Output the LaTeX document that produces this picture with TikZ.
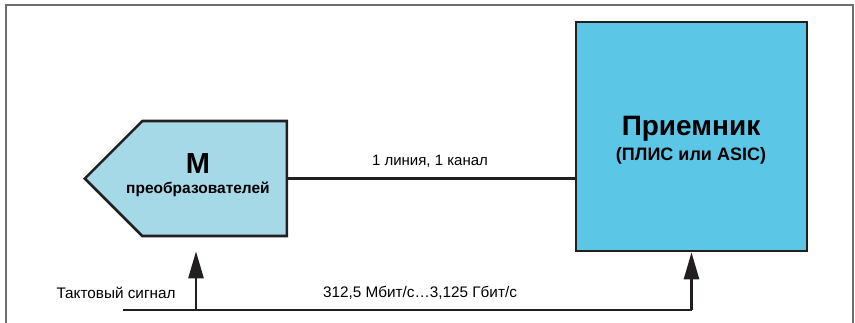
\documentclass[tikz,border=0pt]{standalone}
\usepackage{fontspec}
\setmainfont{Liberation Sans}
\usetikzlibrary{shapes.symbols,arrows.meta}
\definecolor{edge}{HTML}{231F20}
\definecolor{frame}{HTML}{6D6E70}
\definecolor{rxfill}{HTML}{5BC6E6}
\definecolor{cvfill}{HTML}{A6D9E7}
\tikzset{
  x=1pt, y=1pt,
  block/.style={draw=edge, line width=2.6pt, inner sep=0pt},
  wire/.style={draw=edge, line width=2.6pt},
  arr/.style={wire, -{Triangle[length=27pt,width=15pt]}},
  lbl/.style={inner sep=0pt, anchor=base, font=\fontsize{15}{17}\selectfont}
}
\begin{document}
\begin{tikzpicture}
\useasboundingbox (0,0) rectangle (855,-322);
% outer frame (bottom edge runs off the page)
\draw[frame, line width=1.3pt] (6,-340) -- (6,-5) -- (853,-5) -- (853,-340);

% receiver block
\node[block, fill=rxfill, minimum width=231pt, minimum height=229pt] (recv) at (691.5,-136.5) {};
\node[lbl, font=\bfseries\fontsize{28}{30}\selectfont] (recvT) at (691,-135) {Приемник};
\node[lbl, font=\bfseries\fontsize{18}{20}\selectfont] (recvS) at (691,-160) {(ПЛИС или ASIC)};

% converter block, pointed towards the west
\node[block, fill=cvfill, signal, signal to=west, signal pointer angle=90,
      minimum width=202pt, minimum height=115pt, anchor=west] (conv) at (83,-178.5) {};
\node[lbl, font=\bfseries\fontsize{29}{30}\selectfont] (convT) at (198,-173) {M};
\node[lbl, font=\bfseries\fontsize{15.5}{18}\selectfont] (convS) at (198,-193) {преобразователей};

% data link
\draw[wire] (conv.east) -- (conv.east -| recv.west);
\node[lbl] (linkL) at (430,-165) {1 линия, 1 канал};

% clock distribution
\coordinate (clkin) at (123,-310);
\coordinate (tap) at (196,-310);
\coordinate (corner) at (recv.south |- clkin);
\draw[wire] (clkin) -- (corner);
\draw[arr] (corner) -- (recv.south);
\draw[arr] (tap) -- ([yshift=-14pt]conv.south -| tap);
\node[lbl, font=\fontsize{15.3}{17}\selectfont] (clkL) at (116,-298) {Тактовый сигнал};
\node[lbl, font=\fontsize{15.3}{17}\selectfont] (rateL) at (420,-297) {312,5 Мбит/с…3,125 Гбит/с};
\end{tikzpicture}
\end{document}
